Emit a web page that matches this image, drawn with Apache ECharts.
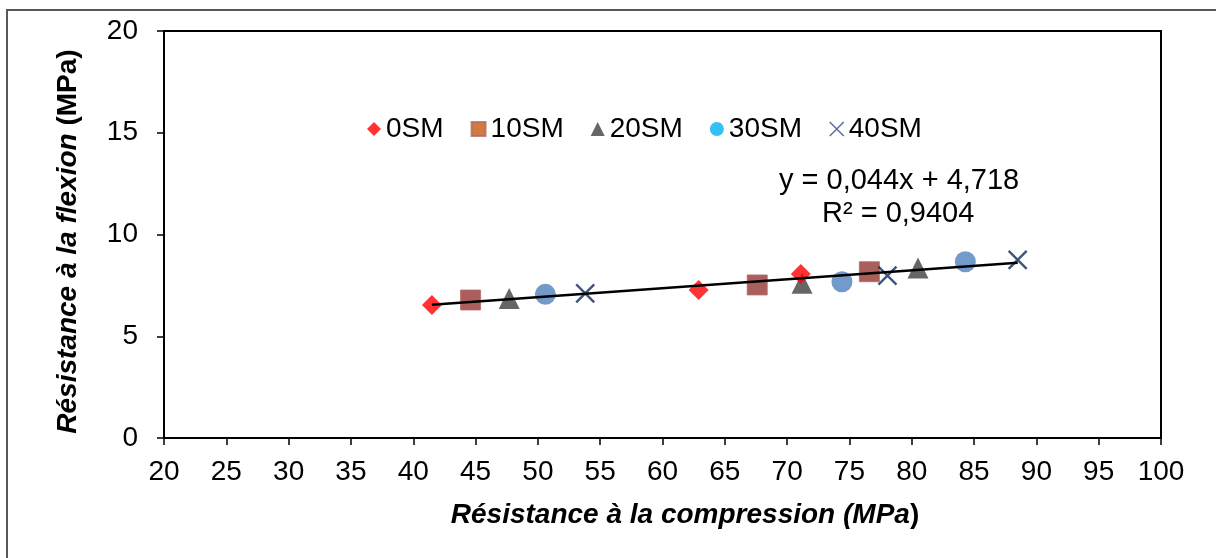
<!DOCTYPE html>
<html>
<head>
<meta charset="utf-8">
<script src="https://cdn.jsdelivr.net/npm/echarts@6/dist/echarts.min.js"></script>
<style>
  html, body { margin: 0; padding: 0; background: #fff; }
  #chart { width: 1216px; height: 558px; }
</style>
</head>
<body>
<div id="chart"></div>
<script>
// Compression strength (x) vs flexural strength (y), MPa, per mix
const seriesNames = ['0SM', '10SM', '20SM', '30SM', '40SM'];
const x0SM  = [41.5, 62.9, 71.1];
const y0SM  = [6.54, 7.27, 8.06];
const x10SM = [44.6, 67.6, 76.6];
const y10SM = [6.78, 7.52, 8.17];
const x20SM = [47.7, 71.2, 80.5];
const y20SM = [6.86, 7.60, 8.35];
const x30SM = [50.6, 74.4, 84.3];
const y30SM = [7.06, 7.68, 8.66];
const x40SM = [53.8, 78.05, 88.5];
const y40SM = [7.11, 7.98, 8.75];

// Linear fit shown on the chart
const slope = 0.044;
const intercept = 4.718;
const rSquared = '0,9404';

const xTicks = { min: 20, max: 100, interval: 5 };
const yTicks = { min: 0, max: 20, interval: 5 };

const FONT = '"Liberation Sans", Arial, sans-serif';
const FS = 28;
const CROSS = 'path://M0,0L10,10M10,0L0,10';

function pairs(xs, ys) { return xs.map((x, i) => [x, ys[i]]); }

const allX = [].concat(x0SM, x10SM, x20SM, x30SM, x40SM);
const fitX0 = Math.min.apply(null, allX);
const fitX1 = Math.max.apply(null, allX);
const fitLine = [[fitX0, slope * fitX0 + intercept], [fitX1, slope * fitX1 + intercept]];

const styles = [
  { symbol: 'diamond',  size: 20, item: { color: '#FF0000' }, z: 4 },
  { symbol: 'rect',     size: 20, item: { color: '#953735', borderColor: '#B06A68', borderWidth: 1 }, z: 2 },
  { symbol: 'triangle', size: 21, item: { color: '#404040' }, z: 2 },
  { symbol: 'circle',   size: 21, item: { color: '#4F81BD' }, z: 2 },
  { symbol: CROSS,      size: 18, item: { color: 'transparent', borderColor: '#0E2A5E', borderWidth: 2.4 }, z: 2 }
];
const legendStyles = [
  { icon: 'diamond',  itemStyle: { color: '#FF0000' } },
  { icon: 'rect',     itemStyle: { color: '#C55A11' } },
  { icon: 'triangle', itemStyle: { color: '#404040' } },
  { icon: 'circle',   itemStyle: { color: '#00B0F0' } },
  { icon: CROSS,      itemStyle: { color: 'transparent', borderColor: '#2F4A86', borderWidth: 1.5 } }
];
const dataSets = [pairs(x0SM, y0SM), pairs(x10SM, y10SM), pairs(x20SM, y20SM), pairs(x30SM, y30SM), pairs(x40SM, y40SM)];

const scatterSeries = seriesNames.map((name, i) => ({
  name: name,
  type: 'scatter',
  symbol: styles[i].symbol,
  symbolSize: styles[i].size,
  itemStyle: styles[i].item,
  z: styles[i].z,
  data: dataSets[i]
}));

const titleRich = {
  i: { fontFamily: FONT, fontSize: FS, fontWeight: 'bold', fontStyle: 'italic', color: '#000' },
  b: { fontFamily: FONT, fontSize: FS, fontWeight: 'bold', color: '#000' }
};

const chart = echarts.init(document.getElementById('chart'), null, { renderer: 'canvas' });
chart.setOption({
  backgroundColor: '#ffffff',
  animation: false,
  textStyle: { fontFamily: FONT },
  grid: {
    left: 164, right: 55, top: 31, bottom: 120,
    show: true, borderColor: '#000', borderWidth: 2, backgroundColor: 'transparent'
  },
  legend: {
    left: 362, top: 110,
    itemWidth: 14, itemHeight: 14, itemGap: 27,
    textStyle: { fontFamily: FONT, fontSize: FS, color: '#000' },
    data: seriesNames.map((n, i) => ({ name: n, icon: legendStyles[i].icon, itemStyle: legendStyles[i].itemStyle }))
  },
  xAxis: {
    type: 'value',
    min: xTicks.min, max: xTicks.max, interval: xTicks.interval,
    axisLine: { onZero: false, lineStyle: { color: '#000', width: 2 } },
    axisTick: { show: true, inside: false, length: 7, lineStyle: { color: '#000', width: 1.5 } },
    axisLabel: { margin: 20, fontFamily: FONT, fontSize: FS, color: '#000' },
    splitLine: { show: false },
    name: '{i|Résistance à la compression (MPa}{b|)}',
    nameLocation: 'middle',
    nameGap: 63,
    nameTextStyle: { padding: [0, 0, 0, 45], rich: titleRich }
  },
  yAxis: {
    type: 'value',
    min: yTicks.min, max: yTicks.max, interval: yTicks.interval,
    axisLine: { onZero: false, lineStyle: { color: '#000', width: 2 } },
    axisTick: { show: true, inside: false, length: 7, lineStyle: { color: '#000', width: 1.5 } },
    axisLabel: { margin: 26, fontFamily: FONT, fontSize: FS, color: '#000' },
    splitLine: { show: false },
    name: '{i|Résistance à la flexion }{b|(MPa)}',
    nameLocation: 'middle',
    nameGap: 82,
    nameRotate: 90,
    nameTextStyle: { padding: [0, 14, 0, 0], rich: titleRich }
  },
  series: scatterSeries.concat([{
    name: 'Linéaire',
    type: 'line',
    data: fitLine,
    symbol: 'none',
    lineStyle: { color: '#000', width: 2.5 },
    z: 5,
    silent: true
  }]),
  graphic: [
    {
      type: 'rect',
      shape: { x: 7, y: 10, width: 1240, height: 580 },
      style: { fill: 'none', stroke: '#595959', lineWidth: 2 },
      z: 100, silent: true
    },
    {
      type: 'text',
      left: 779, top: 166,
      style: {
        text: 'y = 0,' + String(slope).split('.')[1] + 'x + ' + String(intercept).replace('.', ','),
        font: '29px ' + FONT, fill: '#000'
      }
    },
    {
      type: 'text',
      left: 822, top: 199,
      style: { text: 'R² = ' + rSquared, font: '29px ' + FONT, fill: '#000' }
    }
  ]
});
</script>
</body>
</html>
